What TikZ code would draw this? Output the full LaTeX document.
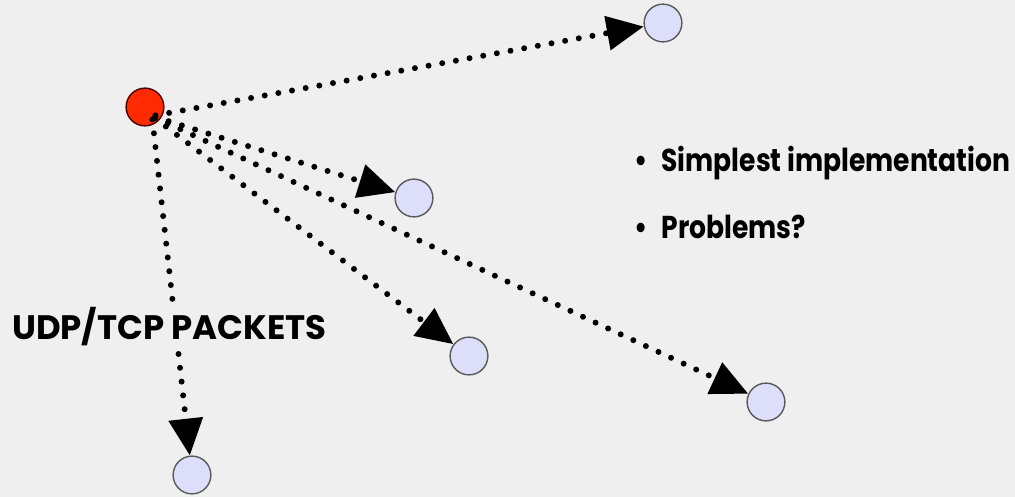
\documentclass[tikz,border=0pt]{standalone}
\usepackage{fontspec}
\setmainfont{Poppins}
\usetikzlibrary{arrows.meta}
\definecolor{bg}{HTML}{EFEFEF}
\definecolor{peer}{HTML}{DCDEFA}
\definecolor{src}{HTML}{FF2A00}
\tikzset{
	host/.style={circle, draw=black!65, line width=0.8pt, fill=peer, minimum size=21.5pt, inner sep=0pt},
	sender/.style={host, fill=src, draw=black!70!red},
	packet/.style={line width=3.4pt, line cap=round, dash pattern=on 0pt off 7.9pt,
		-{Triangle[length=21pt,width=19pt]}, shorten <=2pt},
	bullets/.style={anchor=west, font=\bfseries\addfontfeature{FakeStretch=0.84}\fontsize{18}{20}\selectfont},
}
\begin{document}
\begin{tikzpicture}[x=0.02cm, y=-0.02cm]
	\useasboundingbox[fill=bg] (0,0) rectangle (1015,497);
	\node[sender] (s) at (145,107) {};
	\coordinate (o) at (152,116);
	\node[host] (a) at (663,23) {};
	\node[host] (b) at (414,198) {};
	\node[host] (c) at (469,356) {};
	\node[host] (d) at (766,402) {};
	\node[host] (e) at (192,475) {};

	\draw[packet] (o) -- (a);
	\draw[packet] (o) -- (b);
	\draw[packet] (o) -- (c);
	\draw[packet] (o) -- (d);
	\draw[packet] (o) -- (e);

	\node[anchor=west, fill=bg, inner sep=1pt, font=\bfseries\fontsize{19.3}{21}\selectfont] (lbl) at (10,327) {UDP/TCP PACKETS};
	\node[bullets] (p1) at (628,163) {\textbullet\hspace{8pt}Simplest implementation};
	\node[bullets] (p2) at (628,227) {\textbullet\hspace{8pt}Problems?};
\end{tikzpicture}
\end{document}
